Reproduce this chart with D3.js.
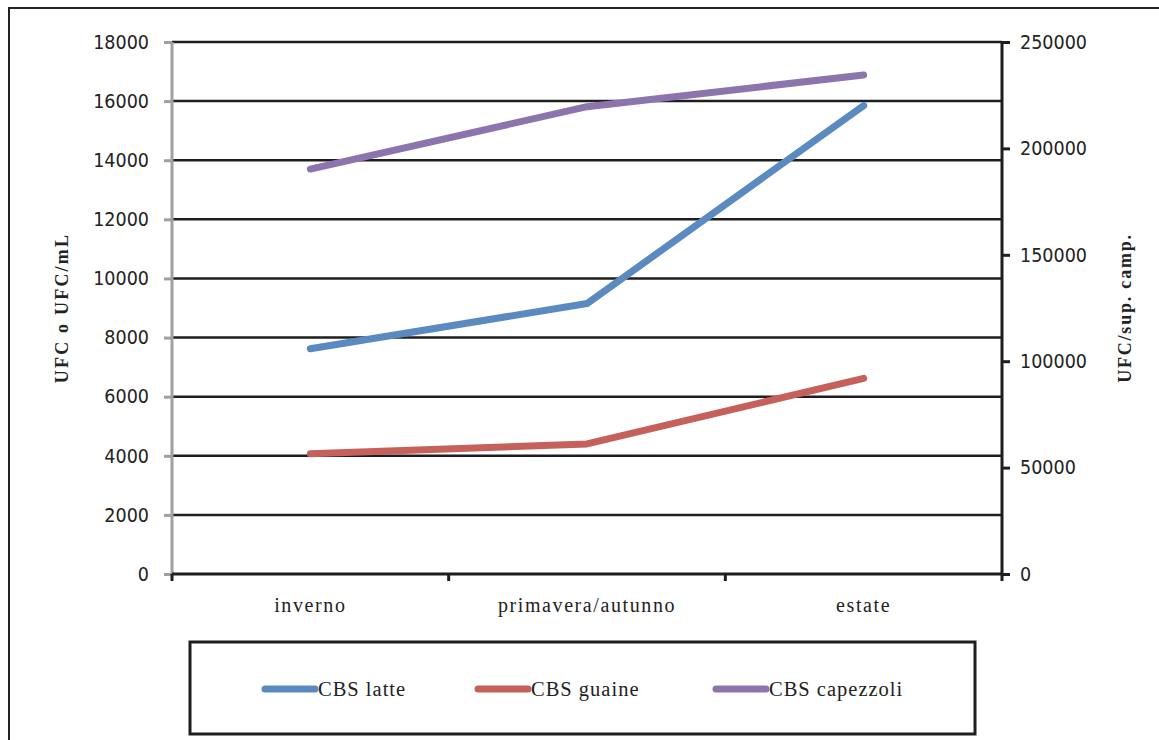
<!DOCTYPE html>
<html>
<head>
<meta charset="utf-8">
<script src="https://cdn.jsdelivr.net/npm/d3@7"></script>
<style>
  html, body { margin: 0; padding: 0; background: #fff; }
  svg { display: block; }
</style>
</head>
<body>
<svg id="chart" width="1159" height="740"></svg>
<script>
// Stagioni
const categories = ["inverno", "primavera/autunno", "estate"];

// UFC/mL (asse sinistro)
const cbsLatte = [7620, 9150, 15850];
const cbsGuaine = [4070, 4400, 6620];
// UFC/sup. camp. (asse destro)
const cbsCapezzoli = [190300, 219600, 234500];

const leftTicks = [0, 2000, 4000, 6000, 8000, 10000, 12000, 14000, 16000, 18000];
const rightTicks = [0, 50000, 100000, 150000, 200000, 250000];

const seriesNames = ["CBS latte", "CBS guaine", "CBS capezzoli"];
const colors = ["#5a8ac0", "#c6605a", "#8c74ad"];

const svg = d3.select("#chart");
const plot = { left: 172, right: 1002, top: 42, bottom: 574 };

// outer frame
svg.append("rect")
  .attr("x", 9).attr("y", 8)
  .attr("width", 1170).attr("height", 760)
  .attr("fill", "none").attr("stroke", "#222").attr("stroke-width", 2);

const x = d3.scaleBand().domain(categories).range([plot.left, plot.right]);
const yL = d3.scaleLinear().domain([0, 18000]).range([plot.bottom, plot.top]);
const yR = d3.scaleLinear().domain([0, 250000]).range([plot.bottom, plot.top]);

const sansFont = "'DejaVu Sans Condensed', 'DejaVu Sans', sans-serif";
const serifFont = "'Liberation Serif', 'DejaVu Serif', serif";

// horizontal gridlines
svg.append("g").selectAll("line")
  .data(leftTicks.filter(d => d > 0))
  .join("line")
  .attr("x1", plot.left).attr("x2", plot.right)
  .attr("y1", d => yL(d)).attr("y2", d => yL(d))
  .attr("stroke", "#1e1e1e").attr("stroke-width", 2.5);

// left axis
const leftAxis = svg.append("g")
  .attr("transform", `translate(${plot.left},0)`)
  .call(d3.axisLeft(yL).tickValues(leftTicks).tickSize(8).tickPadding(15).tickFormat(d3.format("d")));
leftAxis.select(".domain").attr("stroke", "#a0a0a0").attr("stroke-width", 3)
  .attr("d", `M0,${plot.top}V${plot.bottom}`);
leftAxis.selectAll(".tick line").attr("stroke", "#a0a0a0").attr("stroke-width", 3);
leftAxis.selectAll(".tick text")
  .attr("font-family", sansFont).attr("font-size", 19.5).attr("fill", "#222");

// right axis
const rightAxis = svg.append("g")
  .attr("transform", `translate(${plot.right},0)`)
  .call(d3.axisRight(yR).tickValues(rightTicks).tickSize(8).tickPadding(10).tickFormat(d3.format("d")));
rightAxis.select(".domain").attr("stroke", "#1e1e1e").attr("stroke-width", 3)
  .attr("d", `M0,${plot.top}V${plot.bottom}`);
rightAxis.selectAll(".tick line").attr("stroke", "#1e1e1e").attr("stroke-width", 3);
rightAxis.selectAll(".tick text")
  .attr("font-family", sansFont).attr("font-size", 19.5).attr("fill", "#222");

// category axis
const bottomAxis = svg.append("g")
  .attr("transform", `translate(0,${plot.bottom})`)
  .call(d3.axisBottom(x).tickSize(0).tickPadding(24));
bottomAxis.select(".domain").attr("stroke", "#1e1e1e").attr("stroke-width", 3)
  .attr("d", `M${plot.left},0H${plot.right}`);
bottomAxis.selectAll(".tick text")
  .attr("font-family", serifFont).attr("font-size", 20).attr("letter-spacing", "1.6px").attr("fill", "#222");

// category boundary ticks
const boundaries = categories.map(c => x(c)).concat([x(categories[categories.length - 1]) + x.bandwidth()]);
svg.append("g").selectAll("line")
  .data(boundaries)
  .join("line")
  .attr("x1", d => d).attr("x2", d => d)
  .attr("y1", plot.bottom).attr("y2", plot.bottom + 7)
  .attr("stroke", "#1e1e1e").attr("stroke-width", 3);

// axis titles
svg.append("text")
  .attr("transform", `translate(68,${(plot.top + plot.bottom) / 2}) rotate(-90)`)
  .attr("text-anchor", "middle")
  .attr("font-family", serifFont).attr("font-weight", "bold").attr("font-size", 18)
  .attr("letter-spacing", "2.2px").attr("fill", "#222")
  .text("UFC o UFC/mL");
svg.append("text")
  .attr("transform", `translate(1131,${(plot.top + plot.bottom) / 2}) rotate(-90)`)
  .attr("text-anchor", "middle")
  .attr("font-family", serifFont).attr("font-weight", "bold").attr("font-size", 18)
  .attr("letter-spacing", "1.8px").attr("fill", "#222")
  .text("UFC/sup. camp.");

// series lines
const cx = c => x(c) + x.bandwidth() / 2;
const series = [
  { values: cbsLatte, y: yL },
  { values: cbsGuaine, y: yL },
  { values: cbsCapezzoli, y: yR }
];
series.forEach((s, i) => {
  const line = d3.line().x((d, j) => cx(categories[j])).y(d => s.y(d));
  svg.append("path")
    .datum(s.values)
    .attr("d", line)
    .attr("fill", "none")
    .attr("stroke", colors[i])
    .attr("stroke-width", 7)
    .attr("stroke-linecap", "round")
    .attr("stroke-linejoin", "round");
});

// legend
svg.append("rect")
  .attr("x", 190).attr("y", 642)
  .attr("width", 785).attr("height", 92)
  .attr("fill", "none").attr("stroke", "#1e1e1e").attr("stroke-width", 3);

const legendX = [265, 478, 716];
const legend = svg.append("g").selectAll("g")
  .data(seriesNames)
  .join("g")
  .attr("transform", (d, i) => `translate(${legendX[i]},689)`);
legend.append("line")
  .attr("x1", 0).attr("x2", 50)
  .attr("stroke", (d, i) => colors[i])
  .attr("stroke-width", 7).attr("stroke-linecap", "round");
legend.append("text")
  .attr("x", 53).attr("y", 7)
  .attr("font-family", serifFont).attr("font-size", 20.5)
  .attr("letter-spacing", "1px").attr("fill", "#222")
  .text(d => d);
</script>
</body>
</html>
